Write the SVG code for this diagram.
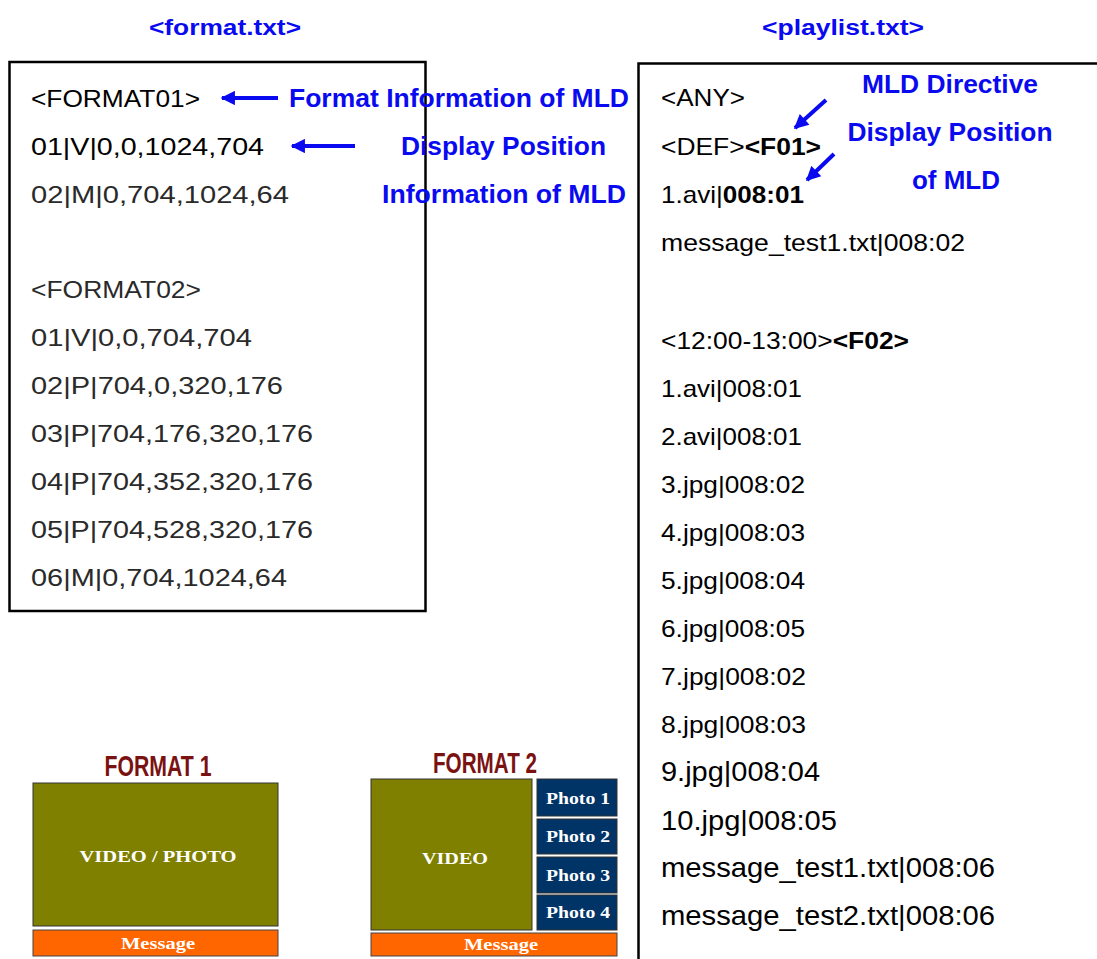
<svg xmlns="http://www.w3.org/2000/svg" width="1097" height="959" viewBox="0 0 1097 959">
<style>
.ttl{font-family:"Liberation Sans",Arial,sans-serif;font-weight:bold;font-size:22px;fill:#0a0af0;text-anchor:middle}
.ann{font-family:"Liberation Sans",Arial,sans-serif;font-weight:bold;font-size:25px;fill:#0a0af0}
.lt{font-family:"Liberation Sans",Arial,sans-serif;font-size:24px;fill:#2a2a2a}
.lt0{fill:#000}
.rt{font-family:"Liberation Sans",Arial,sans-serif;font-size:24px;fill:#000}
.rt2{font-size:27.5px}
.b{font-weight:bold}
.box{fill:none;stroke:#000;stroke-width:2.5}
.arr{stroke:#0a0af0;stroke-width:4;fill:none}
.fmt{font-family:"Liberation Sans",Arial,sans-serif;font-weight:bold;font-size:30px;fill:#7a1212;text-anchor:middle}
.sv{font-family:"Liberation Serif","Times New Roman",serif;font-weight:bold;font-size:17px;fill:#fff;text-anchor:middle}
.olive{fill:#808000;stroke:#333;stroke-width:1}
.orange{fill:#ff6600;stroke:#444;stroke-width:1}
.navy{fill:#003366;stroke:#333;stroke-width:1}
</style>
<defs>
<marker id="ah" viewBox="0 0 10 10" refX="9" refY="5" markerWidth="4" markerHeight="3.6" orient="auto" markerUnits="strokeWidth">
<path d="M0,0 L10,5 L0,10 z" fill="#0a0af0"/>
</marker>
</defs>
<rect width="1097" height="959" fill="#fff"/>

<g id="titles">
<text class="ttl" x="225" y="35" textLength="152" lengthAdjust="spacingAndGlyphs">&lt;format.txt&gt;</text>
<text class="ttl" x="843" y="35" textLength="162" lengthAdjust="spacingAndGlyphs">&lt;playlist.txt&gt;</text>
</g>

<g id="format-box">
<rect class="box" x="9.5" y="62" width="416" height="549"/>
<text class="lt lt0" x="31" y="107" textLength="169" lengthAdjust="spacingAndGlyphs">&lt;FORMAT01&gt;</text>
<text class="lt lt0" x="31" y="155" textLength="233" lengthAdjust="spacingAndGlyphs">01|V|0,0,1024,704</text>
<text class="lt" x="31" y="203" textLength="258" lengthAdjust="spacingAndGlyphs">02|M|0,704,1024,64</text>
<text class="lt" x="31" y="298" textLength="170" lengthAdjust="spacingAndGlyphs">&lt;FORMAT02&gt;</text>
<text class="lt" x="31" y="346" textLength="221" lengthAdjust="spacingAndGlyphs">01|V|0,0,704,704</text>
<text class="lt" x="31" y="394" textLength="252" lengthAdjust="spacingAndGlyphs">02|P|704,0,320,176</text>
<text class="lt" x="31" y="442" textLength="282" lengthAdjust="spacingAndGlyphs">03|P|704,176,320,176</text>
<text class="lt" x="31" y="490" textLength="282" lengthAdjust="spacingAndGlyphs">04|P|704,352,320,176</text>
<text class="lt" x="31" y="538" textLength="282" lengthAdjust="spacingAndGlyphs">05|P|704,528,320,176</text>
<text class="lt" x="31" y="586" textLength="256" lengthAdjust="spacingAndGlyphs">06|M|0,704,1024,64</text>
</g>

<g id="playlist-box">
<path class="box" d="M638.5,970 V63.5 H1100" stroke-width="3"/>
<text class="rt" x="661" y="106" textLength="84" lengthAdjust="spacingAndGlyphs">&lt;ANY&gt;</text>
<text class="rt" x="661" y="155" textLength="160" lengthAdjust="spacingAndGlyphs">&lt;DEF&gt;<tspan class="b">&lt;F01&gt;</tspan></text>
<text class="rt" x="661" y="203" textLength="143" lengthAdjust="spacingAndGlyphs">1.avi|<tspan class="b">008:01</tspan></text>
<text class="rt" x="661" y="251" textLength="304" lengthAdjust="spacingAndGlyphs">message_test1.txt|008:02</text>
<text class="rt" x="661" y="349" textLength="248" lengthAdjust="spacingAndGlyphs">&lt;12:00-13:00&gt;<tspan class="b">&lt;F02&gt;</tspan></text>
<text class="rt" x="661" y="397" textLength="141" lengthAdjust="spacingAndGlyphs">1.avi|008:01</text>
<text class="rt" x="661" y="445" textLength="141" lengthAdjust="spacingAndGlyphs">2.avi|008:01</text>
<text class="rt" x="661" y="493" textLength="144" lengthAdjust="spacingAndGlyphs">3.jpg|008:02</text>
<text class="rt" x="661" y="541" textLength="144" lengthAdjust="spacingAndGlyphs">4.jpg|008:03</text>
<text class="rt" x="661" y="589" textLength="144" lengthAdjust="spacingAndGlyphs">5.jpg|008:04</text>
<text class="rt" x="661" y="637" textLength="144" lengthAdjust="spacingAndGlyphs">6.jpg|008:05</text>
<text class="rt" x="661" y="685" textLength="145" lengthAdjust="spacingAndGlyphs">7.jpg|008:02</text>
<text class="rt" x="661" y="733" textLength="145" lengthAdjust="spacingAndGlyphs">8.jpg|008:03</text>
<text class="rt rt2" x="661" y="781" textLength="159" lengthAdjust="spacingAndGlyphs">9.jpg|008:04</text>
<text class="rt rt2" x="661" y="830" textLength="176" lengthAdjust="spacingAndGlyphs">10.jpg|008:05</text>
<text class="rt rt2" x="661" y="877" textLength="334" lengthAdjust="spacingAndGlyphs">message_test1.txt|008:06</text>
<text class="rt rt2" x="661" y="925" textLength="334" lengthAdjust="spacingAndGlyphs">message_test2.txt|008:06</text>
</g>

<g id="annotations">
<text class="ann" x="289" y="107" textLength="340" lengthAdjust="spacingAndGlyphs">Format Information of MLD</text>
<text class="ann" x="401" y="155" textLength="205" lengthAdjust="spacingAndGlyphs">Display Position</text>
<text class="ann" x="382" y="203" textLength="244" lengthAdjust="spacingAndGlyphs">Information of MLD</text>
<text class="ann" x="950" y="93" text-anchor="middle" textLength="176" lengthAdjust="spacingAndGlyphs">MLD Directive</text>
<text class="ann" x="950" y="141" text-anchor="middle" textLength="205" lengthAdjust="spacingAndGlyphs">Display Position</text>
<text class="ann" x="956" y="189" text-anchor="middle" textLength="88" lengthAdjust="spacingAndGlyphs">of MLD</text>
</g>

<g id="connectors">
<line class="arr" x1="278" y1="98" x2="222" y2="98" marker-end="url(#ah)"/>
<line class="arr" x1="355" y1="146" x2="292" y2="146" marker-end="url(#ah)"/>
<line class="arr" x1="826" y1="100" x2="795" y2="128" marker-end="url(#ah)"/>
<line class="arr" x1="834" y1="154" x2="807" y2="180" marker-end="url(#ah)"/>
</g>

<g id="format1">
<text class="fmt" x="158" y="776" textLength="107" lengthAdjust="spacingAndGlyphs">FORMAT 1</text>
<rect class="olive" x="33" y="783" width="245" height="143"/>
<text class="sv" x="158" y="862" textLength="157" lengthAdjust="spacingAndGlyphs">VIDEO / PHOTO</text>
<rect class="orange" x="33" y="930" width="245" height="26"/>
<text class="sv" x="158" y="949" textLength="74" lengthAdjust="spacingAndGlyphs">Message</text>
</g>

<g id="format2">
<text class="fmt" x="485" y="773" textLength="104" lengthAdjust="spacingAndGlyphs">FORMAT 2</text>
<rect class="olive" x="371" y="779" width="161" height="151"/>
<text class="sv" x="455" y="864" textLength="66" lengthAdjust="spacingAndGlyphs">VIDEO</text>
<rect class="navy" x="537" y="779" width="80" height="37"/>
<text class="sv" x="578" y="804" textLength="64" lengthAdjust="spacingAndGlyphs">Photo 1</text>
<rect class="navy" x="537" y="819" width="80" height="35"/>
<text class="sv" x="578" y="842" textLength="64" lengthAdjust="spacingAndGlyphs">Photo 2</text>
<rect class="navy" x="537" y="857" width="80" height="36"/>
<text class="sv" x="578" y="881" textLength="64" lengthAdjust="spacingAndGlyphs">Photo 3</text>
<rect class="navy" x="537" y="895" width="80" height="35"/>
<text class="sv" x="578" y="918" textLength="64" lengthAdjust="spacingAndGlyphs">Photo 4</text>
<rect class="orange" x="371" y="933" width="246" height="23"/>
<text class="sv" x="501" y="950" textLength="74" lengthAdjust="spacingAndGlyphs">Message</text>
</g>
</svg>
